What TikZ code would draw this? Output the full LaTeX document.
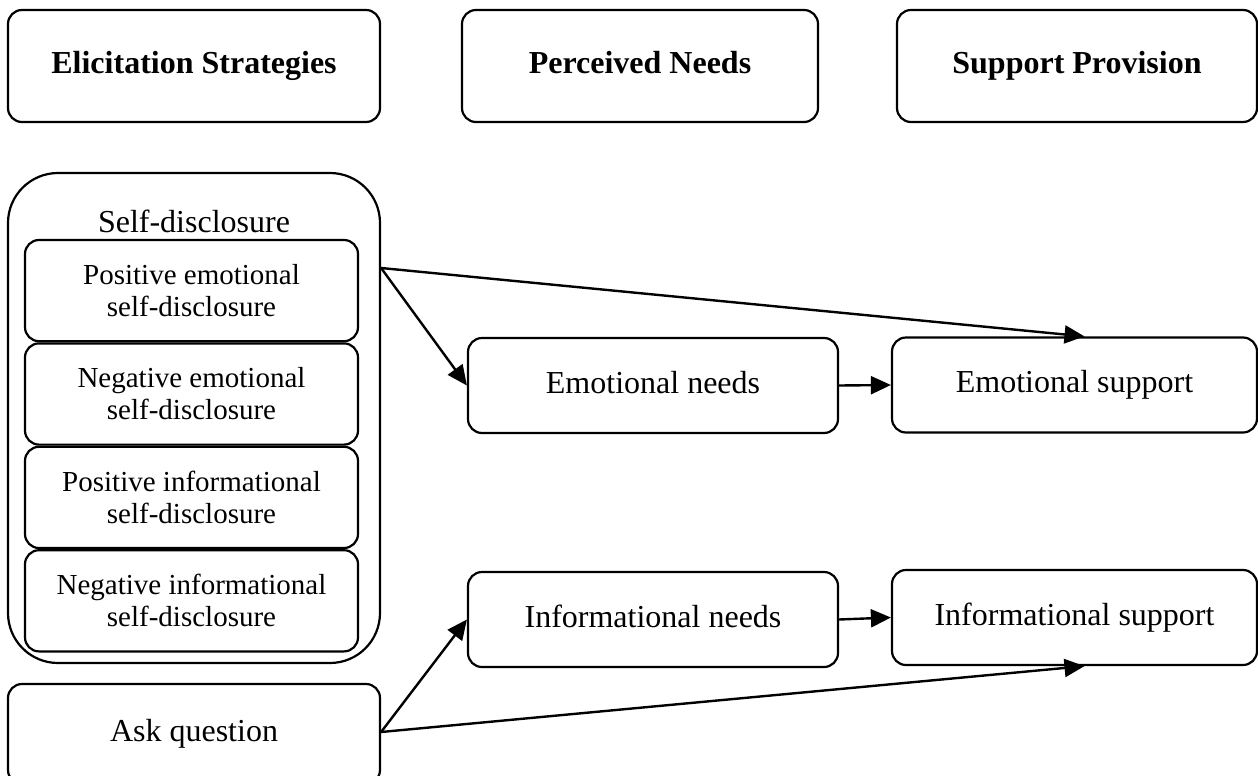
\documentclass[tikz,border=0pt]{standalone}
\usepackage{fontspec}
\setmainfont{Liberation Serif}
\usetikzlibrary{arrows.meta,positioning,calc}

\tikzset{
    box/.style={draw,line width=1.1pt,rounded corners=7pt,align=center,
        text height=11pt,text depth=3.5pt,
        font=\fontsize{16}{18}\selectfont},
    head/.style={box,minimum height=56pt,font=\fontsize{16}{18}\selectfont\bfseries},
    part/.style={draw,line width=1.1pt,rounded corners=7pt,align=center,
        minimum width=166.5pt,minimum height=50.6pt,
        font=\fontsize{14.5}{16}\selectfont},
    link/.style={line width=1.2pt,-{Triangle[length=10pt,width=9pt]}}
}

\begin{document}
\begin{tikzpicture}[x=0.5pt,y=-0.5pt]
    \useasboundingbox (0,0) rectangle (1258,776);

    \node[head,minimum width=186pt] (elicit) at (194,66) {Elicitation Strategies};
    \node[head,minimum width=178pt] (needs) at (640,66) {Perceived Needs};
    \node[head,minimum width=180pt] (provide) at (1077,66) {Support Provision};

    \node[draw,line width=1.1pt,rounded corners=25pt,minimum width=186pt,
        minimum height=245pt] (selfdis) at (194,418) {};
    \node[anchor=base,font=\fontsize{16}{18}\selectfont] (sdLabel) at (194,232) {Self-disclosure};
    \node[part] (posEmo) at (191.5,290.6) {Positive emotional\\self-disclosure};
    \node[part,below=0pt of posEmo] (negEmo) {Negative emotional\\self-disclosure};
    \node[part,below=0pt of negEmo] (posInfo) {Positive informational\\self-disclosure};
    \node[part,below=0pt of posInfo] (negInfo) {Negative informational\\self-disclosure};

    \node[box,minimum width=186pt,minimum height=50pt] (ask) at (194,734) {Ask question};

    \node[box,minimum width=185pt,minimum height=47.5pt] (emoNeeds) at (653,385.5) {Emotional needs};
    \node[box,minimum width=185pt,minimum height=47.5pt] (infoNeeds) at (653,619.5) {Informational needs};
    \node[box,minimum width=182.5pt,minimum height=47.5pt] (emoSup) at (1074.5,385) {Emotional support};
    \node[box,minimum width=182.5pt,minimum height=47.5pt] (infoSup) at (1074.5,617.5) {Informational support};

    \coordinate (sdFork) at (selfdis.east |- 0,268);
    \coordinate (askFork) at (ask.east |- 0,732);

    \draw[link] (sdFork) -- (emoNeeds.west);
    \draw[link] (sdFork) -- ($(emoSup.north)+(10,0)$);
    \draw[link] (emoNeeds.east) -- (emoSup.west);
    \draw[link] (infoNeeds.east) -- (infoSup.west);
    \draw[link] (askFork) -- (infoNeeds.west);
    \draw[link] (askFork) -- ($(infoSup.south)+(10,0)$);
\end{tikzpicture}
\end{document}
